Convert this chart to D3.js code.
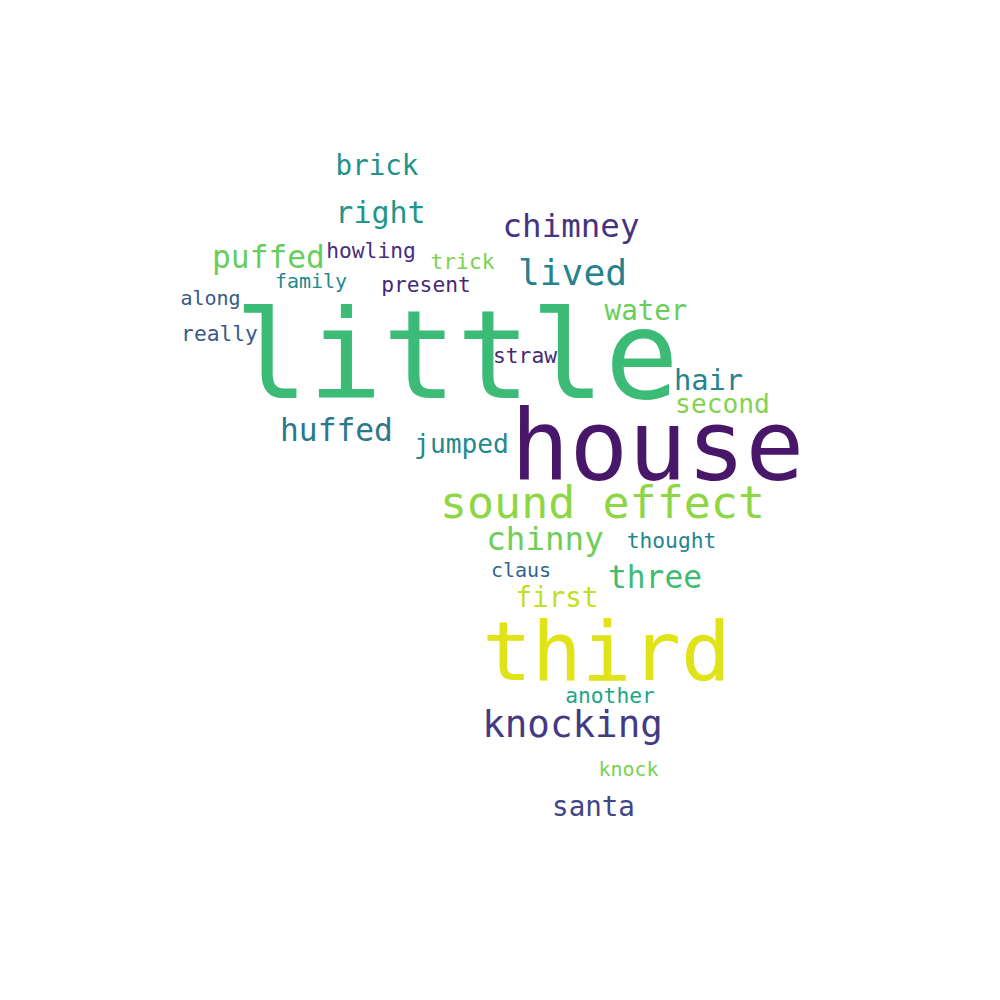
<!DOCTYPE html>
<html>
<head>
<meta charset="utf-8">
<script src="https://cdn.jsdelivr.net/npm/d3@7"></script>
<style>
  html, body { margin: 0; padding: 0; background: #ffffff; }
  #cloud text { font-family: "DejaVu Sans Mono", "Liberation Mono", monospace; }
</style>
</head>
<body>
<div id="cloud"></div>
<script>
// words, relative frequency (1 = largest word) and viridis tone per word
const words = ["little", "house", "third", "sound effect", "knocking", "lived", "chinny",
  "chimney", "puffed", "huffed", "three", "right", "hair", "water", "first", "santa",
  "brick", "second", "jumped", "howling", "trick", "present", "really", "straw",
  "thought", "another", "family", "along", "claus", "knock"];
const freq = [0.985, 0.78, 0.66, 0.36, 0.30, 0.29, 0.26,
  0.26, 0.25, 0.25, 0.25, 0.24, 0.23, 0.22, 0.22, 0.22,
  0.22, 0.21, 0.21, 0.17, 0.17, 0.17, 0.17, 0.17,
  0.17, 0.17, 0.16, 0.16, 0.16, 0.16];
const tone = [0.68, 0.06, 0.95, 0.83, 0.17, 0.44, 0.78,
  0.15, 0.77, 0.40, 0.69, 0.52, 0.44, 0.77, 0.91, 0.21,
  0.50, 0.81, 0.47, 0.13, 0.80, 0.11, 0.28, 0.11,
  0.46, 0.59, 0.47, 0.28, 0.32, 0.80];
// layout result: word centre and baseline, in a 0..100 canvas
const layoutX = [45.65, 65.75, 60.65, 60.25, 57.25, 57.25, 54.5,
  57.1, 26.85, 33.65, 65.5, 38.05, 70.85, 64.6, 55.7, 59.35,
  37.7, 72.25, 46.15, 37.1, 46.25, 42.6, 21.95, 52.5,
  67.15, 61.0, 31.1, 21.05, 52.1, 62.85];
const layoutY = [39.8, 48.0, 68.0, 51.8, 73.7, 28.5, 55.0,
  23.7, 26.8, 44.1, 58.8, 22.3, 39.0, 32.0, 60.7, 81.6,
  17.5, 41.3, 45.3, 25.8, 26.9, 29.2, 34.1, 36.3,
  54.8, 70.3, 28.8, 30.5, 57.7, 77.6];

const width = 1000, height = 1000;

const x = d3.scaleLinear().domain([0, 100]).range([0, width]);
const y = d3.scaleLinear().domain([0, 100]).range([0, height]);
const size = d3.scaleLinear().domain([0, 1]).range([0, 125]);
const color = d3.scaleSequential(d3.interpolateViridis).domain([0, 1]);

const data = words.map((w, i) => ({
  text: w, f: freq[i], t: tone[i], cx: layoutX[i], cy: layoutY[i]
}));

const svg = d3.select("#cloud")
  .append("svg")
  .attr("width", width)
  .attr("height", height);

svg.append("rect")
  .attr("width", width)
  .attr("height", height)
  .attr("fill", "#ffffff");

svg.append("g")
  .selectAll("text")
  .data(data)
  .enter().append("text")
  .attr("x", d => x(d.cx))
  .attr("y", d => y(d.cy))
  .attr("text-anchor", "middle")
  .style("font-size", d => size(d.f) + "px")
  .style("fill", d => color(d.t))
  .text(d => d.text);
</script>
</body>
</html>
